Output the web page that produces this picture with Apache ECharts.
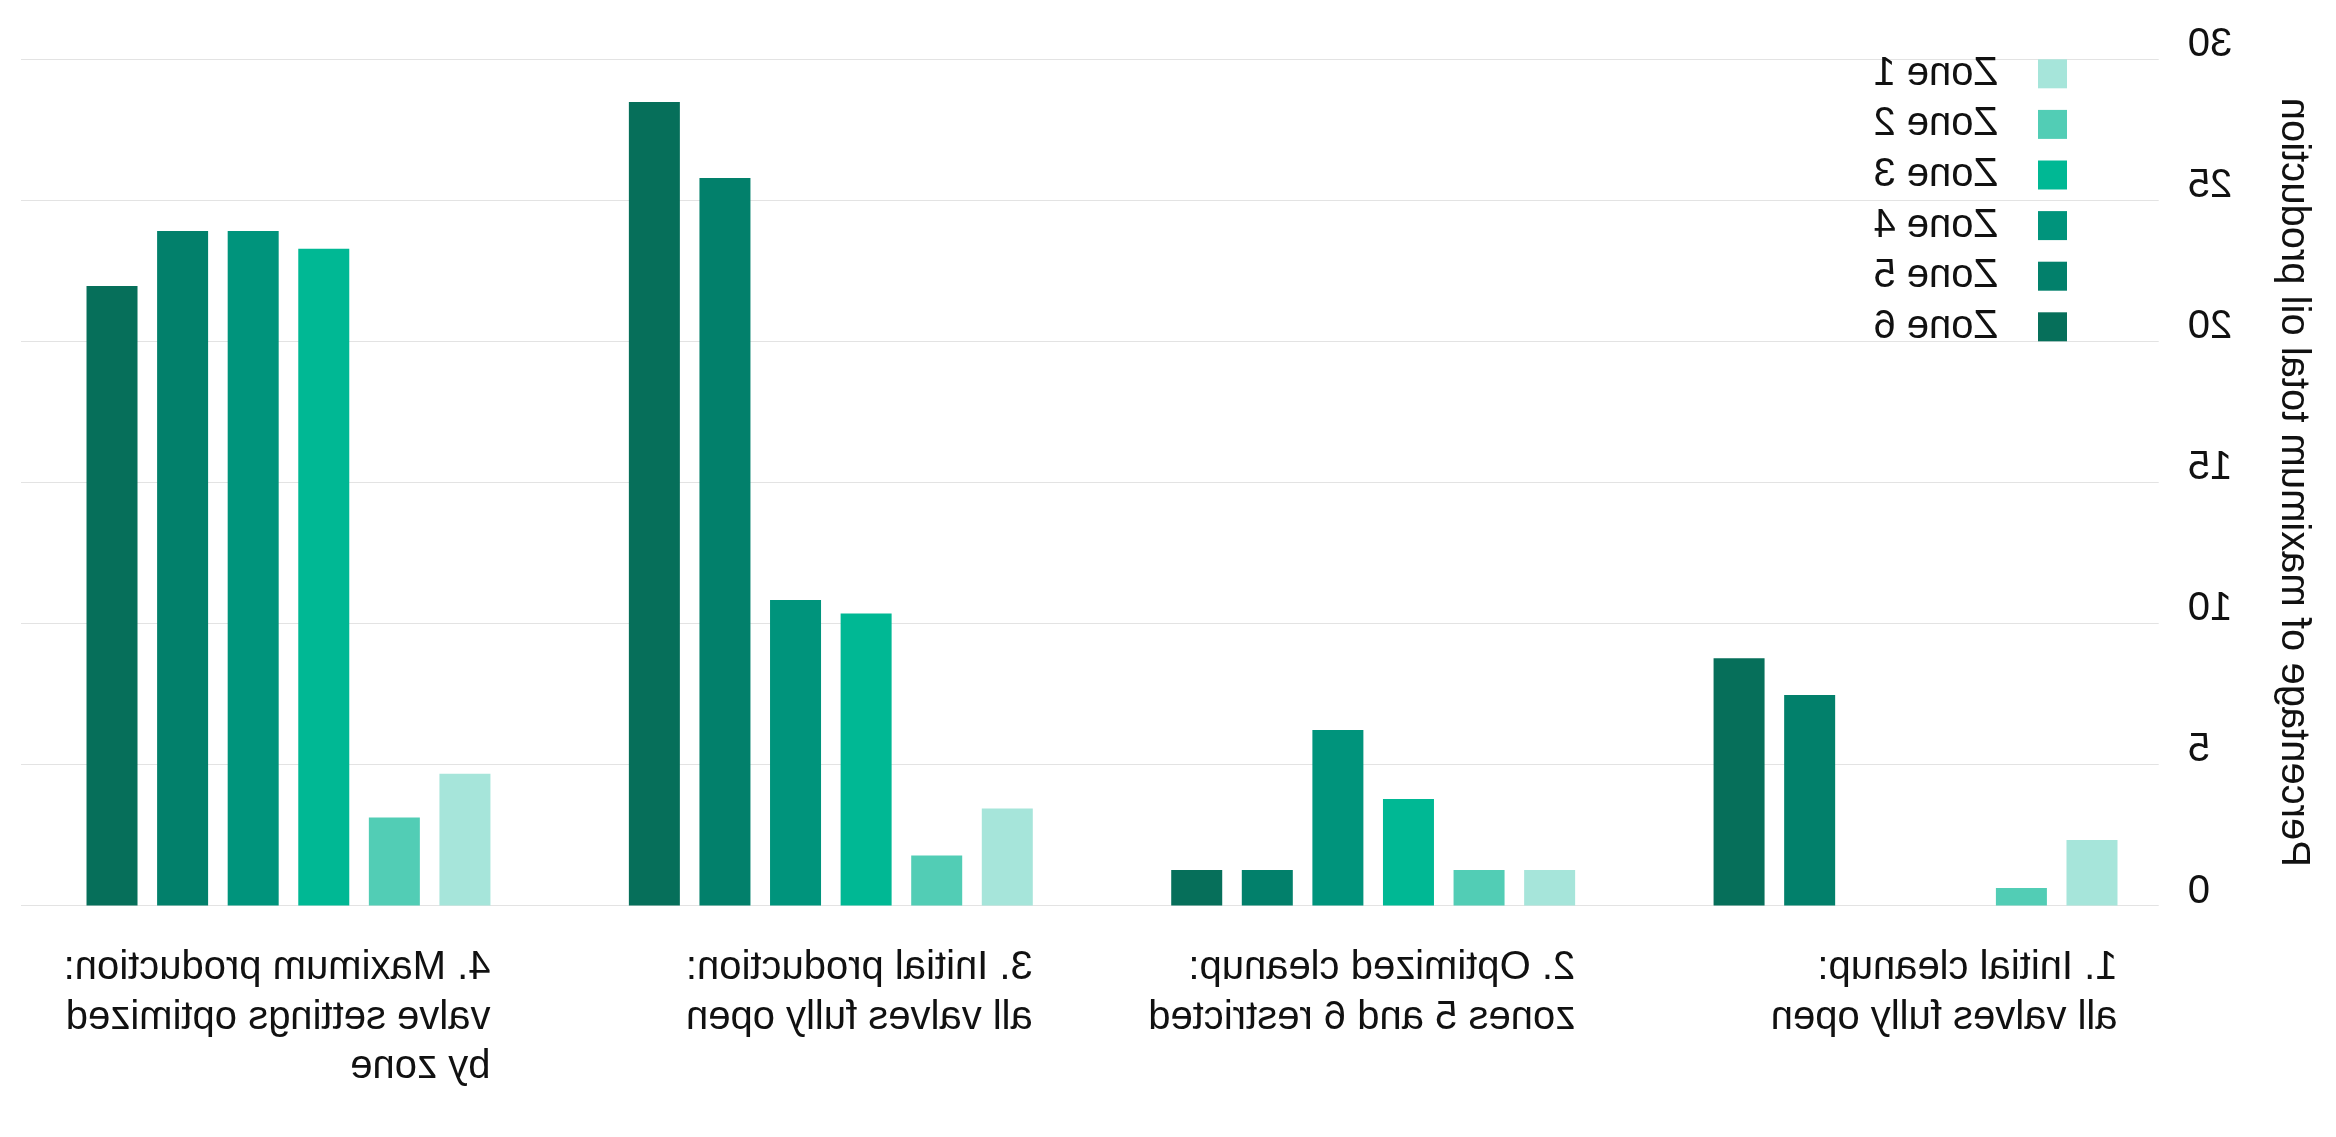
<!DOCTYPE html>
<html>
<head>
<meta charset="utf-8">
<script src="https://cdn.jsdelivr.net/npm/echarts@6/dist/echarts.min.js"></script>
<style>
  html, body { margin: 0; padding: 0; background: #ffffff; }
  #wrap { width: 2336px; height: 1137px; transform: scaleX(-1); transform-origin: center center; }
  #chart { width: 2336px; height: 1137px; }
</style>
</head>
<body>
<div id="wrap"><div id="chart"></div></div>
<script>
// ---- data ----
const categories = [
  "1. Initial cleanup:\nall valves fully open",
  "2. Optimized cleanup:\nzones 5 and 6 restricted",
  "3. Initial production:\nall valves fully open",
  "4. Maximum production:\nvalve settings optimized\nby zone"
];
const zoneNames = ["Zone 1", "Zone 2", "Zone 3", "Zone 4", "Zone 5", "Zone 6"];
const zone1 = [2.32, 1.26, 3.44, 4.67];
const zone2 = [0.62, 1.26, 1.77, 3.12];
const zone3 = [0, 3.78, 10.35, 23.28];
const zone4 = [0, 6.22, 10.83, 23.91];
const zone5 = [7.46, 1.26, 25.79, 23.91];
const zone6 = [8.77, 1.26, 28.49, 21.96];
const yTicks = [0, 5, 10, 15, 20, 25, 30];
const yTitle = "Percentage of maximum total oil production";

// ---- style ----
const zoneColors = ["#a6e5da", "#52cdb5", "#00b894", "#00947c", "#02806b", "#066f5a"];
const FONT = "'Liberation Sans', Arial, Helvetica, sans-serif";
const zoneData = [zone1, zone2, zone3, zone4, zone5, zone6];

const chart = echarts.init(document.getElementById('chart'), null, { renderer: 'canvas' });

const series = zoneNames.map((name, i) => ({
  name: name,
  type: 'bar',
  xAxisIndex: 0,
  yAxisIndex: 0,
  data: zoneData[i],
  barWidth: 51,
  barGap: '38.4%',
  itemStyle: { color: zoneColors[i] },
  emphasis: { disabled: true },
  animation: false
}));

const option = {
  backgroundColor: '#ffffff',
  animation: false,
  textStyle: { fontFamily: FONT },
  legend: {
    orient: 'vertical',
    left: 269,
    top: 53.8,
    padding: 0,
    itemWidth: 29,
    itemHeight: 29,
    itemGap: 10.6,
    icon: 'rect',
    selectedMode: false,
    data: zoneNames,
    textStyle: { fontFamily: FONT, fontSize: 40, color: '#111111', padding: [0, 0, 0, 35] }
  },
  grid: [
    { left: 149.3, right: 17.3, top: 59.3, bottom: 231.5, containLabel: false },
    { left: 177.3, right: 21, top: 59.3, bottom: 231.5, containLabel: false }
  ],
  xAxis: [
    {
      type: 'category',
      gridIndex: 0,
      data: categories,
      axisLine: { show: false },
      axisTick: { show: false },
      splitLine: { show: false },
      axisLabel: {
        interval: 0,
        margin: 38,
        align: 'center',
        verticalAlign: 'top',
        formatter: function (v) {
          return v.split('\n').map(l => '{a|' + l + '}').join('\n');
        },
        rich: {
          a: { width: 404, align: 'left', fontFamily: FONT, fontSize: 40, lineHeight: 49.5, color: '#111111' }
        }
      }
    },
    { type: 'value', gridIndex: 1, show: false, min: 0, max: 1 }
  ],
  yAxis: [
    { type: 'value', gridIndex: 0, min: 0, max: 30, interval: 5, show: false, splitLine: { show: false } },
    {
      type: 'value', gridIndex: 1, min: yTicks[0], max: yTicks[yTicks.length - 1], interval: 5,
      axisLine: { show: false },
      axisTick: { show: false },
      splitLine: { show: true, lineStyle: { color: '#e3e3e3', width: 1.2 } },
      axisLabel: {
        margin: 29,
        fontFamily: FONT, fontSize: 40, color: '#111111',
        verticalAlign: 'bottom', lineHeight: 28
      },
      name: yTitle,
      nameLocation: 'middle',
      nameGap: 114,
      nameTextStyle: { fontFamily: FONT, fontSize: 40, color: '#111111' }
    }
  ],
  series: series
};
chart.setOption(option);
</script>
</body>
</html>
